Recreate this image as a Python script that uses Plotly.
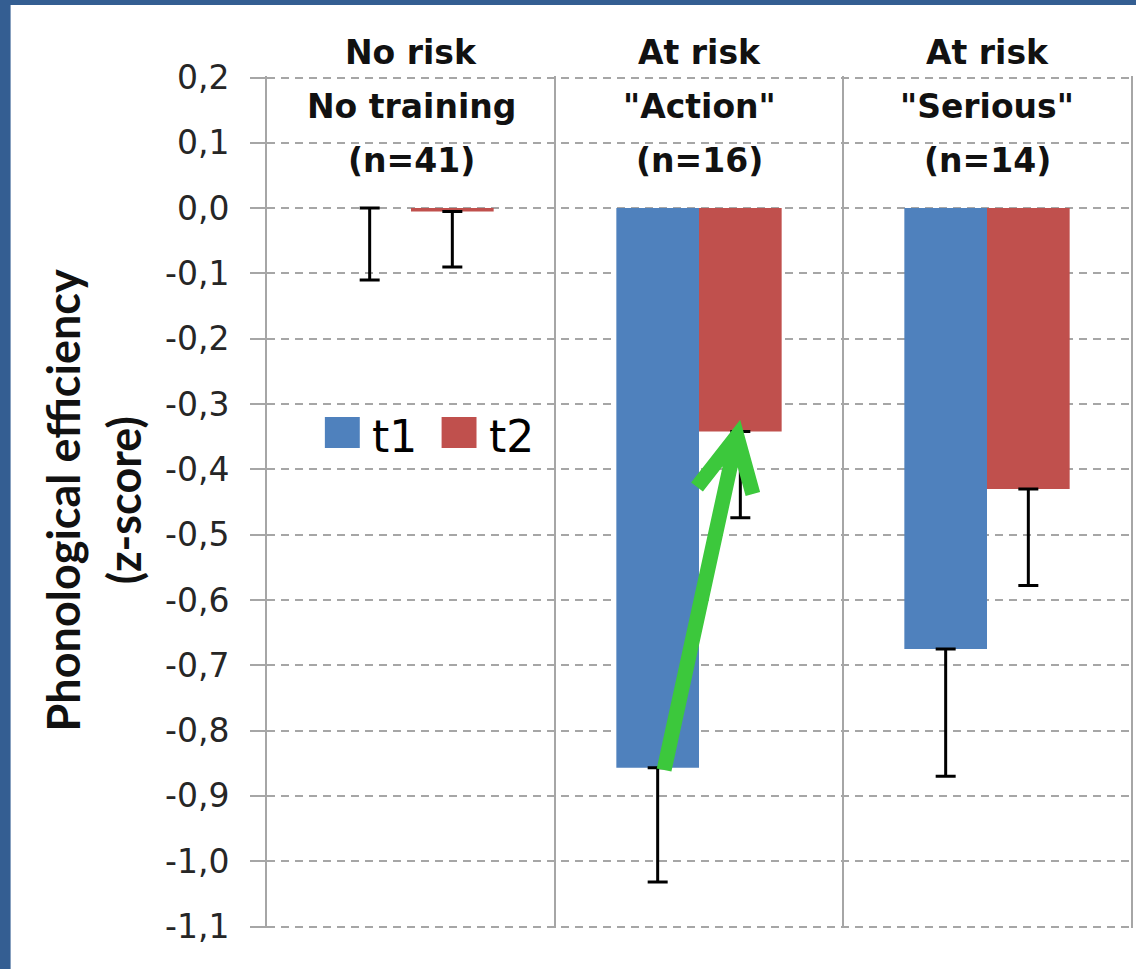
import plotly.graph_objects as go

# ---- data ----
categories = ["No risk<br>No training<br>(n=41)",
              "At risk<br>\"Action\"<br>(n=16)",
              "At risk<br>\"Serious\"<br>(n=14)"]
series_names = ["t1", "t2"]
t1_values = [0.0, -0.857, -0.675]
t2_values = [-0.005, -0.342, -0.430]
t1_err_minus = [0.110, 0.175, 0.195]
t2_err_minus = [0.085, 0.132, 0.148]
tick_values = [0.2, 0.1, 0.0, -0.1, -0.2, -0.3, -0.4, -0.5, -0.6, -0.7, -0.8, -0.9, -1.0, -1.1]
tick_labels = ["0,2", "0,1", "0,0", "-0,1", "-0,2", "-0,3", "-0,4", "-0,5", "-0,6",
               "-0,7", "-0,8", "-0,9", "-1,0", "-1,1"]
y_title_lines = ["Phonological efficiency", "(z-score)"]

BLUE = "#4F81BD"
RED = "#C0504D"
GRID = "#A6A6A6"
GREEN = "#3CC83C"
BORDER = "#345E92"

xs = list(range(len(categories)))

fig = go.Figure()
fig.add_trace(go.Bar(
    x=xs, y=t1_values, name=series_names[0], marker=dict(color=BLUE, line=dict(width=0)),
    error_y=dict(type="data", symmetric=False, array=[0] * len(xs), arrayminus=t1_err_minus,
                 color="black", thickness=3, width=10),
    showlegend=False))
fig.add_trace(go.Bar(
    x=xs, y=t2_values, name=series_names[1], marker=dict(color=RED, line=dict(width=0)),
    error_y=dict(type="data", symmetric=False, array=[0] * len(xs), arrayminus=t2_err_minus,
                 color="black", thickness=3, width=10),
    showlegend=False))

W, H = 1136, 969
ML, MR, MT, MB = 267, 3, 76, 41
PW, PH = W - ML - MR, H - MT - MB


def px(xp):
    return (xp - ML) / PW


def py(yp):
    return (H - MB - yp) / PH


shapes = []
# white page over blue border
shapes.append(dict(type="rect", xref="paper", yref="paper", layer="below",
                   x0=px(10), x1=px(W + 5), y0=py(H + 5), y1=py(5),
                   fillcolor="white", line=dict(width=0)))
# manual legend squares
shapes.append(dict(type="rect", xref="paper", yref="paper",
                   x0=px(325), x1=px(360), y0=py(448), y1=py(417),
                   fillcolor=BLUE, line=dict(width=0)))
shapes.append(dict(type="rect", xref="paper", yref="paper",
                   x0=px(442), x1=px(477), y0=py(448), y1=py(417),
                   fillcolor=RED, line=dict(width=0)))
# green arrow (annotation overlay, pixel-based)
tail = (px(665), py(770))
tip = (px(738), py(436))
left_arm = (px(698), py(487))
right_arm = (px(754), py(494))
path = (f"M {tail[0]} {tail[1]} L {tip[0]} {tip[1]} "
        f"M {left_arm[0]} {left_arm[1]} L {tip[0]} {tip[1]} L {right_arm[0]} {right_arm[1]}")
shapes.append(dict(type="path", xref="paper", yref="paper", path=path,
                   line=dict(color=GREEN, width=15)))

annotations = []
line_y = [52.5, 106.5, 160]
for i, cat in enumerate(categories):
    for j, line in enumerate(cat.split("<br>")):
        annotations.append(dict(x=i, xref="x", y=py(line_y[j]), yref="paper",
                                text=f"<b>{line}</b>", showarrow=False,
                                xanchor="center", yanchor="middle",
                                font=dict(family="DejaVu Sans", size=33, color="#111111")))
# legend text
annotations.append(dict(x=px(370), y=py(436), xref="paper", yref="paper", text=series_names[0],
                        showarrow=False, xanchor="left", yanchor="middle",
                        font=dict(family="DejaVu Sans", size=44, color="black")))
annotations.append(dict(x=px(488), y=py(436), xref="paper", yref="paper", text=series_names[1],
                        showarrow=False, xanchor="left", yanchor="middle",
                        font=dict(family="DejaVu Sans", size=44, color="black")))
# y-axis title
for k, xc in enumerate([63, 124]):
    annotations.append(dict(x=px(xc), y=py(500), xref="paper", yref="paper",
                            text=f"<b>{y_title_lines[k]}</b>", showarrow=False, textangle=-90,
                            xanchor="center", yanchor="middle",
                            font=dict(family="Lato", size=45, color="#111111")))

fig.update_layout(
    width=W, height=H,
    margin=dict(l=ML, r=MR, t=MT, b=MB, pad=0),
    paper_bgcolor=BORDER, plot_bgcolor="white",
    barmode="group", bargap=0.426, bargroupgap=0,
    shapes=shapes, annotations=annotations,
    xaxis=dict(range=[-0.5, 2.5], tickvals=[0.5, 1.5], showticklabels=False, ticks="",
               showgrid=True, gridcolor=GRID, gridwidth=2, zeroline=False, showline=False,
               fixedrange=True),
    yaxis=dict(range=[-1.1023, 0.2023], tickvals=tick_values, ticktext=tick_labels,
               showgrid=True, gridcolor=GRID, gridwidth=2, griddash="8px,6px",
               zeroline=False, showline=True, linecolor=GRID, linewidth=2, mirror=True,
               ticks="outside", ticklen=15, tickcolor=GRID, tickwidth=2,
               ticklabelstandoff=14,
               tickfont=dict(family="DejaVu Sans", size=33, color="#262626")),
)

fig.write_html("out.html", config={"displayModeBar": False},
               post_script="document.body.style.margin='0';")
